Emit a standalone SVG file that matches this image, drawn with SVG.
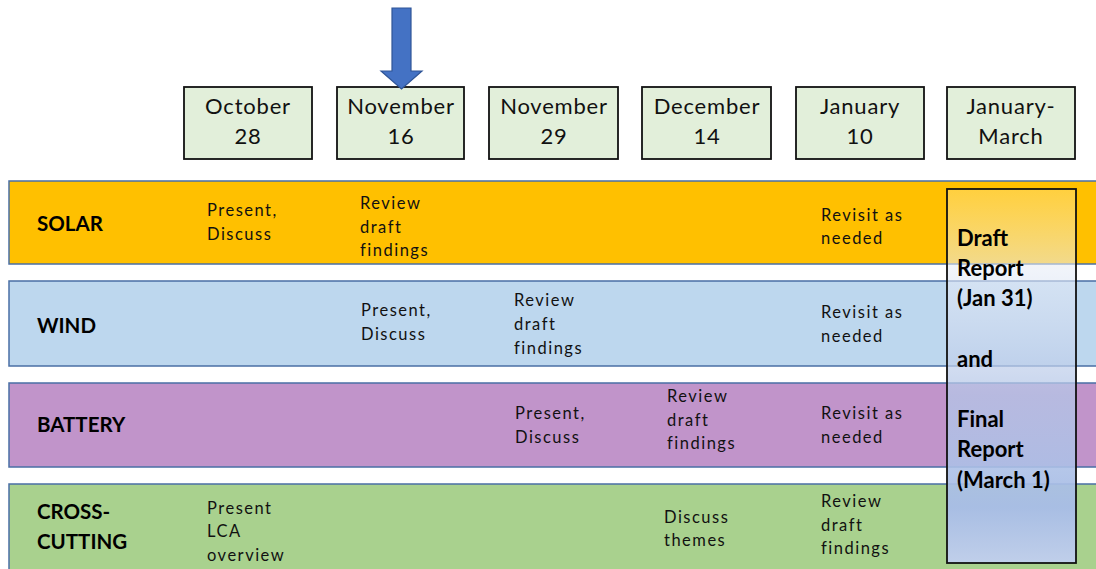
<svg xmlns="http://www.w3.org/2000/svg" width="1096" height="569" viewBox="0 0 1096 569">
<style>
.row{stroke:#4a6fa5;stroke-width:1.5}
.date rect{fill:#e2efda;stroke:#111;stroke-width:1.8}
.dt{font-family:Lato,"Liberation Sans",sans-serif;font-size:22px;fill:#111;text-anchor:middle;letter-spacing:0.8px}
.lbl{font-family:Lato,"Liberation Sans",sans-serif;font-size:20.5px;font-weight:bold;fill:#000}
.cell{font-family:Lato,"Liberation Sans",sans-serif;font-size:16.5px;fill:#111;letter-spacing:1.5px}
.rep{font-family:Lato,"Liberation Sans",sans-serif;font-size:22px;font-weight:bold;fill:#000}
</style>
<defs>
<linearGradient id="rg" x1="0" y1="0" x2="0" y2="1">
<stop offset="0" stop-color="#fff4d0" stop-opacity="0.3"/>
<stop offset="0.22" stop-color="#e6ecf7" stop-opacity="0.6"/>
<stop offset="0.55" stop-color="#b4c6e7" stop-opacity="0.75"/>
<stop offset="0.85" stop-color="#a8bde6" stop-opacity="0.97"/>
<stop offset="1" stop-color="#c0cfea" stop-opacity="1"/>
</linearGradient>
</defs>
<rect width="1096" height="569" fill="#fff"/>

<g id="row-solar">
<rect class="row" x="9" y="181" width="1095" height="83" fill="#ffc000"/>
<text class="lbl" x="37" y="231">SOLAR</text>
<text class="cell" x="207" y="216">Present,</text>
<text class="cell" x="207" y="240">Discuss</text>
<text class="cell" x="360" y="209">Review</text>
<text class="cell" x="360" y="233">draft</text>
<text class="cell" x="360" y="256">findings</text>
<text class="cell" x="821" y="221">Revisit as</text>
<text class="cell" x="821" y="244">needed</text>
</g>

<g id="row-wind">
<rect class="row" x="9" y="281" width="1095" height="85" fill="#bdd7ee"/>
<text class="lbl" x="37" y="333">WIND</text>
<text class="cell" x="361" y="316">Present,</text>
<text class="cell" x="361" y="340">Discuss</text>
<text class="cell" x="514" y="306">Review</text>
<text class="cell" x="514" y="330">draft</text>
<text class="cell" x="514" y="354">findings</text>
<text class="cell" x="821" y="318">Revisit as</text>
<text class="cell" x="821" y="342">needed</text>
</g>

<g id="row-battery">
<rect class="row" x="9" y="383" width="1095" height="84" fill="#c194ca"/>
<text class="lbl" x="37" y="432">BATTERY</text>
<text class="cell" x="515" y="419">Present,</text>
<text class="cell" x="515" y="443">Discuss</text>
<text class="cell" x="667" y="402">Review</text>
<text class="cell" x="667" y="426">draft</text>
<text class="cell" x="667" y="449">findings</text>
<text class="cell" x="821" y="419">Revisit as</text>
<text class="cell" x="821" y="443">needed</text>
</g>

<g id="row-crosscutting">
<rect class="row" x="9" y="484" width="1095" height="95" fill="#a9d18e"/>
<text class="lbl" x="37" y="519">CROSS-</text>
<text class="lbl" x="37" y="549">CUTTING</text>
<text class="cell" x="207" y="514">Present</text>
<text class="cell" x="207" y="537">LCA</text>
<text class="cell" x="207" y="561">overview</text>
<text class="cell" x="664" y="523">Discuss</text>
<text class="cell" x="664" y="546">themes</text>
<text class="cell" x="821" y="507">Review</text>
<text class="cell" x="821" y="531">draft</text>
<text class="cell" x="821" y="554">findings</text>
</g>

<g id="date-oct28" class="date">
<rect x="184" y="87" width="128" height="72"/>
<text class="dt" x="248" y="114">October</text>
<text class="dt" x="248" y="144">28</text>
</g>
<g id="date-nov16" class="date">
<rect x="337" y="87" width="127" height="72"/>
<text class="dt" x="401" y="114">November</text>
<text class="dt" x="401" y="144">16</text>
</g>
<g id="date-nov29" class="date">
<rect x="489" y="87" width="129" height="72"/>
<text class="dt" x="554" y="114">November</text>
<text class="dt" x="554" y="144">29</text>
</g>
<g id="date-dec14" class="date">
<rect x="642" y="87" width="129" height="72"/>
<text class="dt" x="707" y="114">December</text>
<text class="dt" x="707" y="144">14</text>
</g>
<g id="date-jan10" class="date">
<rect x="796" y="87" width="128" height="72"/>
<text class="dt" x="860" y="114">January</text>
<text class="dt" x="860" y="144">10</text>
</g>
<g id="date-janmar" class="date">
<rect x="947" y="87" width="128" height="72"/>
<text class="dt" x="1011" y="114">January-</text>
<text class="dt" x="1011" y="144">March</text>
</g>

<g id="connectors">
<path d="M392,8 H411 V71 H422 L401.5,89 L381,71 H392 Z" fill="#4472c4" stroke="#2f5597" stroke-width="1.2"/>
</g>

<g id="report">
<rect x="947" y="189" width="129" height="374" fill="url(#rg)" stroke="#111" stroke-width="1.8"/>
<text class="rep" x="957" y="246">Draft</text>
<text class="rep" x="957" y="276">Report</text>
<text class="rep" x="957" y="306">(Jan 31)</text>
<text class="rep" x="957" y="367">and</text>
<text class="rep" x="957" y="427">Final</text>
<text class="rep" x="957" y="457">Report</text>
<text class="rep" x="957" y="488">(March 1)</text>
</g>
</svg>
